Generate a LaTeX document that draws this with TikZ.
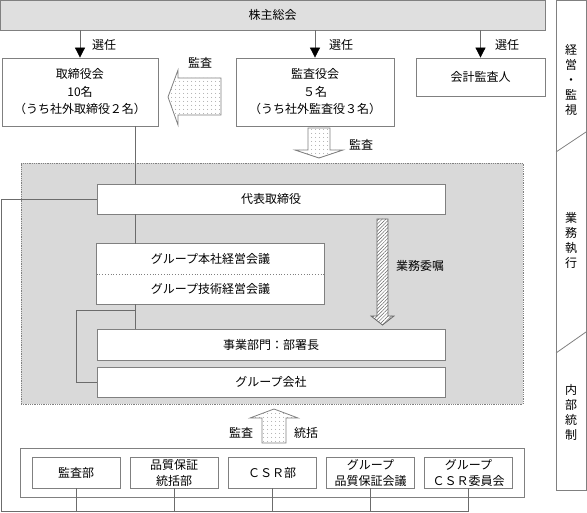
\documentclass[tikz,border=0pt]{standalone}
\usepackage{fontspec}
\setmainfont{Noto Sans CJK JP}
\usetikzlibrary{arrows.meta,patterns.meta}

\begin{document}
\begin{tikzpicture}[x=1pt,y=-1pt,line width=0.8pt,
    box/.style={draw=gray,fill=white,inner sep=0pt,align=center,font=\fontsize{12}{17.5}\selectfont},
    unit/.style={box,minimum width=88pt,minimum height=31pt,font=\fontsize{12}{16}\selectfont},
    lbl/.style={inner sep=0pt,font=\fontsize{12}{15}\selectfont},
    link/.style={draw=gray!85!black},
    sel/.style={link,-{Triangle[width=10pt,length=10pt,color=black,fill=black]}},
    dotarrow/.style={draw=gray,preaction={fill=white},pattern={Dots[distance=4pt,radius=0.5pt]},pattern color=gray},
    hatcharrow/.style={draw=gray!80!black,preaction={fill=white},pattern={Lines[angle=45,distance=2.5pt,line width=0.5pt]},pattern color=gray!80!black}]
    \useasboundingbox (0,0) rectangle (587,513);

    % Management and supervision
    \node[box,fill=gray!25,minimum width=545pt,minimum height=30pt] (kabu) at (272.5,15) {株主総会};
    \node[box,minimum width=156pt,minimum height=68pt] (tori) at (80,92) {取締役会\\10名\\（うち社外取締役２名）};
    \node[box,minimum width=158pt,minimum height=68pt] (kansa) at (315,92) {監査役会\\５名\\（うち社外監査役３名）};
    \node[box,minimum width=129pt,minimum height=38pt] (kaikei) at (480.5,77) {会計監査人};

    \draw[sel] (kabu.south -| tori) -- (tori.north);
    \draw[sel] (kabu.south -| kansa) -- (kansa.north);
    \draw[sel] (kabu.south -| kaikei) -- (kaikei.north);
    \node[lbl] (sen1) at (104,45) {選任};
    \node[lbl] (sen2) at (341,45) {選任};
    \node[lbl] (sen3) at (507,45) {選任};

    % Audit arrows from the auditors
    \draw[dotarrow] (221,78) -- (178,78) -- (178,70) -- (168,97) -- (178,125) -- (178,115) -- (221,115) -- cycle;
    \node[lbl] (kansa1) at (200,63) {監査};
    \draw[dotarrow] (308,128) -- (330,128) -- (330,150) -- (343,150) -- (319,158) -- (295,150) -- (308,150) -- cycle;
    \node[lbl] (kansa2) at (361,145) {監査};

    % Business execution
    \node[draw=gray,densely dotted,fill=gray!30,minimum width=502pt,minimum height=241pt,inner sep=0pt] (area) at (272,283.5) {};
    \node[box,minimum width=348pt,minimum height=30pt] (daihyo) at (271,199) {代表取締役};
    \node[box,draw=none,minimum width=227pt,minimum height=30pt] (honsha) at (210.5,259) {グループ本社経営会議};
    \node[box,draw=none,minimum width=227pt,minimum height=30pt] (gijutsu) at (210.5,289) {グループ技術経営会議};
    \draw[gray] (honsha.north west) rectangle (gijutsu.south east);
    \draw[gray,dotted] (honsha.south west) -- (honsha.south east);
    \node[box,minimum width=348pt,minimum height=31pt] (jigyo) at (271,344.5) {事業部門：部署長};
    \node[box,minimum width=348pt,minimum height=30pt] (kaisha) at (271,382) {グループ会社};

    \draw[hatcharrow] (377,219) -- (388,219) -- (388,316) -- (394,316) -- (382.5,325) -- (371,316) -- (377,316) -- cycle;
    \node[lbl] (itaku) at (420,266) {業務委嘱};

    \coordinate (spine) at (135.5,0);
    \coordinate (br) at (76,310);
    \draw[link] (tori.south -| spine) -- (daihyo.north -| spine);
    \draw[link] (daihyo.south -| spine) -- (honsha.north -| spine);
    \draw[link] (gijutsu.south -| spine) -- (jigyo.north -| spine);
    \draw[link] (br -| spine) -- (br) |- (kaisha.west);

    % Internal control
    \draw[dotarrow] (262,443) -- (262,418) -- (250,418) -- (274,409) -- (298,418) -- (286,418) -- (286,443) -- cycle;
    \node[lbl] (kansa3) at (241,433) {監査};
    \node[lbl] (tokatsu) at (306,433) {統括};

    \node[draw=gray,minimum width=504pt,minimum height=49pt,inner sep=0pt] (naibu) at (272,472.5) {};
    \node[unit] (kansabu) at (76,472.5) {監査部};
    \node[unit] (hinshitsu) at (174,472.5) {品質保証\\統括部};
    \node[unit] (csrbu) at (272,472.5) {ＣＳＲ部};
    \node[unit] (hinkaigi) at (370.5,472.5) {グループ\\品質保証会議};
    \node[unit] (csriin) at (468.5,472.5) {グループ\\ＣＳＲ委員会};

    \coordinate (bot) at (1.5,511.5);
    \draw[link] (daihyo.west) -- (daihyo.west -| bot) -- (bot) -- (bot -| csriin.south) -- (csriin.south);
    \draw[link] (kansabu.south) -- (kansabu.south |- bot);
    \draw[link] (hinshitsu.south) -- (hinshitsu.south |- bot);
    \draw[link] (csrbu.south) -- (csrbu.south |- bot);
    \draw[link] (hinkaigi.south) -- (hinkaigi.south |- bot);

    % Side column
    \draw[gray] (556,0) rectangle (586,490);
    \draw[gray] (556,152) -- (586,132);
    \draw[gray] (556,353) -- (586,332);
    \node[lbl,align=center] (keiei) at (571,80) {経\\営\\・\\監\\視};
    \node[lbl,align=center] (shikko) at (571,240) {業\\務\\執\\行};
    \node[lbl,align=center] (tosei) at (571,412) {内\\部\\統\\制};
\end{tikzpicture}
\end{document}
